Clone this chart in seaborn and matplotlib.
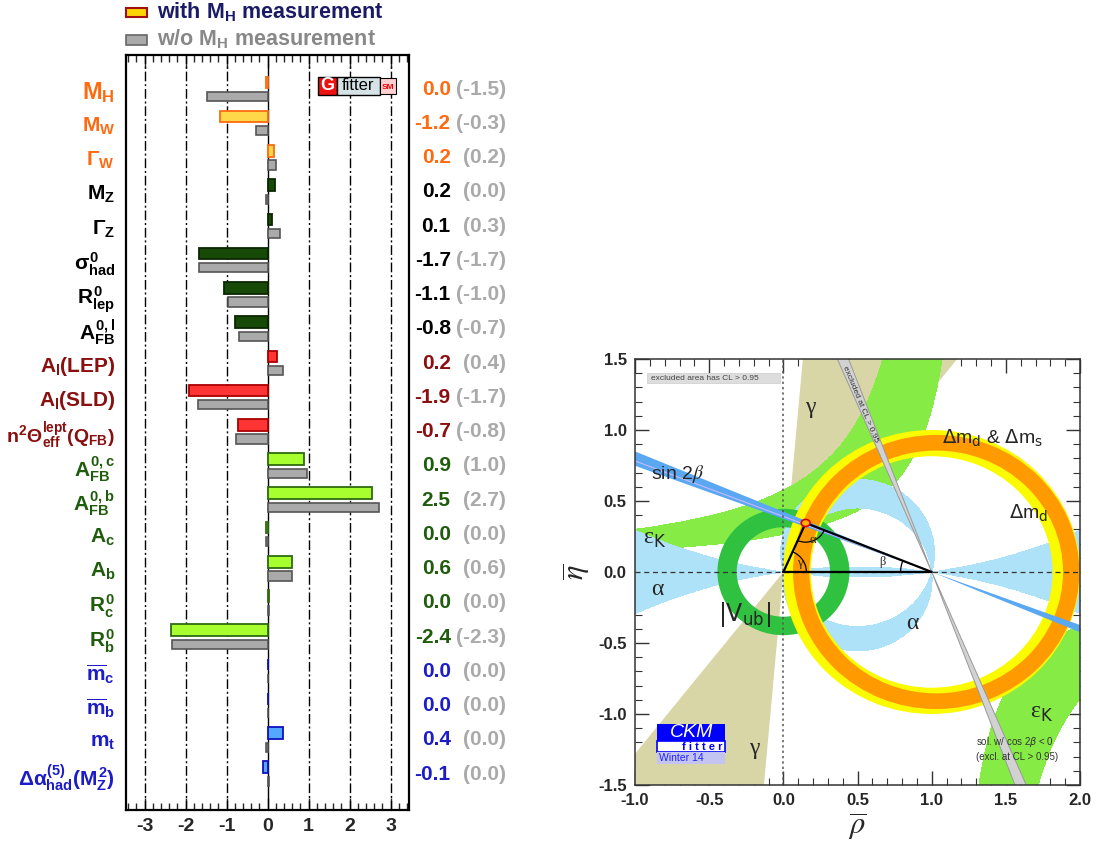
import numpy as np
import pandas as pd
import matplotlib
matplotlib.use('Agg')
import matplotlib.pyplot as plt
import matplotlib.transforms as mtransforms
from matplotlib.patches import Rectangle, Wedge, Arc, Ellipse
from matplotlib.ticker import MultipleLocator, FormatStrFormatter
import seaborn as sns

# ---------------- Gfitter pull data ----------------
observables = [r'$M_H$', r'$M_W$', r'$\Gamma_W$', r'$M_Z$', r'$\Gamma_Z$',
               r'$\sigma^0_{had}$', r'$R^0_{lep}$', r'$A^{0,l}_{FB}$',
               r'$A_l\mathrm{(LEP)}$', r'$A_l\mathrm{(SLD)}$',
               r'$n^2\Theta^{lept}_{eff}(Q_{FB})$',
               r'$A^{0,c}_{FB}$', r'$A^{0,b}_{FB}$', r'$A_c$', r'$A_b$',
               r'$R^0_c$', r'$R^0_b$', r'$\overline{m}_c$', r'$\overline{m}_b$',
               r'$m_t$', r'$\Delta\alpha^{(5)}_{had}(M^2_Z)$']
pull_with = [-0.04, -1.17, 0.16, 0.19, 0.11, -1.66, -1.06, -0.80, 0.24, -1.91,
             -0.73, 0.89, 2.54, -0.04, 0.59, 0.04, -2.36, 0.01, 0.01, 0.38, -0.12]
pull_without = [-1.48, -0.29, 0.20, -0.04, 0.30, -1.66, -0.96, -0.70, 0.38, -1.69,
                -0.77, 0.96, 2.72, -0.03, 0.59, 0.04, -2.32, 0.0, 0.0, -0.03, 0.04]
groups = ['mass'] * 3 + ['z'] * 5 + ['lept'] * 3 + ['hf'] * 6 + ['quark'] * 4

# text colour, bar face, bar edge
group_style = {
    'mass': ('#ff6a10', '#ffd84a', '#ff6a10'),
    'z': ('#000000', '#164a06', '#0b2600'),
    'lept': ('#8a0f0f', '#ff3535', '#aa0000'),
    'hf': ('#1f5c0c', '#a8ff30', '#2f6a10'),
    'quark': ('#1c1cc8', '#55a8ff', '#1010c0'),
}

# ---------------- CKM fit constraints ----------------
apex = (0.150, 0.345)
gamma_range = (52.0, 85.0)
beta_range = (20.5, 23.0)
beta_excl_range = (67.0, 69.5)
alpha_ranges = [(0.0, 8.0), (75.0, 96.0), (172.0, 180.0)]
vub_radius = (0.315, 0.445)
dmd_radius = (0.815, 1.0)
dms_radius = (0.855, 0.965)
dms_center = 1.03
epsk_a = (1.0875, 1.30)
epsk_b = (0.345, 0.626)


def fmt(v):
    s = f"{v:.1f}"
    return "0.0" if s == "-0.0" else s


sns.set_style('white')
plt.rcParams['font.family'] = ['Liberation Sans', 'DejaVu Sans']
plt.rcParams['axes.unicode_minus'] = False
plt.rcParams['mathtext.fontset'] = 'custom'
plt.rcParams['mathtext.rm'] = 'Liberation Sans:bold'
plt.rcParams['mathtext.it'] = 'Liberation Sans:bold'
plt.rcParams['mathtext.bf'] = 'Liberation Sans:bold'
plt.rcParams['mathtext.sf'] = 'Liberation Sans:bold'

fig = plt.figure(figsize=(10.97, 8.48), dpi=100)
fig.patch.set_facecolor('white')

# ================= left panel: pulls =================
ax1 = fig.add_axes([0.1149, 0.0448, 0.258, 0.8903])
n = len(observables)
df = pd.DataFrame({'obs': observables * 2,
                   'pull': pull_with + pull_without,
                   'fit': ['with'] * n + ['without'] * n})
sns.barplot(data=df, x='pull', y='obs', hue='fit', orient='h', dodge=True,
            errorbar=None, legend=False, ax=ax1)

for i, (bar, g) in enumerate(zip(ax1.containers[0], groups)):
    _, face, edge = group_style[g]
    bar.set_y(i - 0.37)
    bar.set_height(0.34)
    bar.set_facecolor(face)
    bar.set_edgecolor(edge)
    bar.set_linewidth(1.3)
    bar.set_zorder(3)
for i, bar in enumerate(ax1.containers[1]):
    bar.set_y(i + 0.08)
    bar.set_height(0.27)
    bar.set_facecolor('#aaaaaa')
    bar.set_edgecolor('#555555')
    bar.set_linewidth(1.2)
    bar.set_zorder(3)

for v in [-3, -2, -1, 1, 2, 3]:
    ax1.axvline(v, color='black', lw=1, ls=(0, (7, 2, 1.5, 2)), zorder=1)
ax1.axvline(0, color='black', lw=1, zorder=2)

ax1.set_xlim(-3.45, 3.45)
ax1.set_ylim(21.05, -1.0)
ax1.set_xlabel('')
ax1.set_ylabel('')
ax1.xaxis.set_major_locator(MultipleLocator(1))
ax1.xaxis.set_minor_locator(MultipleLocator(0.2))
ax1.tick_params(axis='x', which='both', direction='in', top=True, bottom=True)
ax1.tick_params(axis='x', which='major', length=9, width=1, labelsize=14, pad=6)
ax1.tick_params(axis='x', which='minor', length=5, width=1)
ax1.tick_params(axis='y', length=0, pad=8, labelsize=15)
for lab in ax1.get_xticklabels():
    lab.set_fontweight('bold')
for lab, g in zip(ax1.get_yticklabels(), groups):
    lab.set_color(group_style[g][0])
    lab.set_fontweight('bold')
ax1.get_yticklabels()[0].set_fontsize(17)
ax1.get_yticklabels()[10].set_fontsize(14)
for sp in ax1.spines.values():
    sp.set_linewidth(1.6)
    sp.set_color('black')

trans = mtransforms.blended_transform_factory(ax1.transAxes, ax1.transData)
for i, g in enumerate(groups):
    ax1.text(1.147, i, fmt(pull_with[i]), transform=trans, ha='right',
             va='center', color=group_style[g][0], fontsize=15,
             fontweight='bold', clip_on=False)
    ax1.text(1.342, i, '(' + fmt(pull_without[i]) + ')', transform=trans,
             ha='right', va='center', color='#aaaaaa', fontsize=15,
             fontweight='bold', clip_on=False)

# Gfitter logo
ax1.add_patch(Rectangle((0.678, 0.947), 0.067, 0.024, transform=ax1.transAxes,
                        fc='#ee1111', ec='black', lw=1, zorder=5))
ax1.add_patch(Rectangle((0.745, 0.947), 0.153, 0.024, transform=ax1.transAxes,
                        fc='#d5e3e6', ec='black', lw=1, zorder=5))
ax1.add_patch(Rectangle((0.898, 0.949), 0.056, 0.020, transform=ax1.transAxes,
                        fc='#ffd0d0', ec='black', lw=0.8, zorder=5))
ax1.text(0.711, 0.959, 'G', transform=ax1.transAxes, ha='center', va='center',
         color='white', fontsize=13, fontweight='bold', zorder=6)
ax1.text(0.821, 0.959, 'fitter', transform=ax1.transAxes, ha='center',
         va='center', color='black', fontsize=12, zorder=6)
ax1.text(0.926, 0.957, 'SM', transform=ax1.transAxes, ha='center',
         va='center', color='#ee0000', fontsize=6, fontweight='bold', zorder=6)

# legend above the frame
fig.add_artist(Rectangle((0.115, 0.980), 0.019, 0.0106, transform=fig.transFigure,
                         fc='#ffd500', ec='#a01010', lw=1.5))
fig.add_artist(Rectangle((0.115, 0.947), 0.019, 0.0118, transform=fig.transFigure,
                         fc='#aaaaaa', ec='#666666', lw=1.2))
fig.text(0.143, 0.986, r'with M$_H$ measurement', ha='left', va='center',
         color='#1a1a66', fontsize=15.5, fontweight='bold')
fig.text(0.143, 0.954, r'w/o M$_H$ measurement', ha='left', va='center',
         color='#888888', fontsize=15.5, fontweight='bold')

# ================= right panel: CKM =================
ax2 = fig.add_axes([0.5789, 0.0743, 0.4057, 0.5024])
ax2.set_xlim(-1, 2)
ax2.set_ylim(-1.5, 1.5)

rho = np.linspace(-1, 2, 1201)
eta = np.linspace(-1.5, 1.5, 1201)
R, E = np.meshgrid(rho, eta)

# gamma
for off in (0, 180):
    ax2.add_patch(Wedge((0, 0), 4, gamma_range[0] + off, gamma_range[1] + off,
                        fc='#d8d5a6', ec='none', zorder=1))

# epsilon_K
lo = np.where(E > 0, E * (epsk_a[0] - R), E * (epsk_a[1] - R))
hi = np.where(E > 0, E * (epsk_a[1] - R), E * (epsk_a[0] - R))
epsk_mask = ((hi >= epsk_b[0]) & (lo <= epsk_b[1])).astype(float)
ax2.contourf(R, E, epsk_mask, levels=[0.5, 1.5], colors=['#86ec45'], zorder=2)

# alpha
v1x, v1y = -R, -E
v2x, v2y = 1 - R, -E
cosang = (v1x * v2x + v1y * v2y) / (np.hypot(v1x, v1y) * np.hypot(v2x, v2y) + 1e-12)
theta = np.degrees(np.arccos(np.clip(cosang, -1, 1)))
alpha_geo = np.where(E >= 0, theta, 180 - theta)
alpha_mask = np.zeros_like(R)
for a0, a1 in alpha_ranges:
    alpha_mask[(alpha_geo >= a0) & (alpha_geo <= a1)] = 1.0
ax2.contourf(R, E, alpha_mask, levels=[0.5, 1.5], colors=['#aee2f8'], zorder=3)

# |Vub|
ax2.add_patch(Wedge((0, 0), vub_radius[1], 0, 360,
                    width=vub_radius[1] - vub_radius[0],
                    fc='#2fc13f', ec='none', zorder=4))
# dm_d and dm_d & dm_s
ax2.add_patch(Wedge((1, 0), dmd_radius[1], 0, 360,
                    width=dmd_radius[1] - dmd_radius[0],
                    fc='#fafa00', ec='none', zorder=5))
ax2.add_patch(Wedge((dms_center, 0), dms_radius[1], 0, 360,
                    width=dms_radius[1] - dms_radius[0],
                    fc='#ff9a00', ec='none', zorder=6))

# sin 2beta
ax2.add_patch(Wedge((1, 0), 4, 180 - beta_range[1], 180 - beta_range[0],
                    fc='#5aa8f2', ec='none', zorder=7))
ax2.add_patch(Wedge((1, 0), 4, 360 - beta_range[1], 360 - beta_range[0],
                    fc='#5aa8f2', ec='none', zorder=7))
bmid = np.radians(180 - np.mean(beta_range) + 0.4)
ax2.plot([1, 1 + 4 * np.cos(bmid)], [0, 4 * np.sin(bmid)], color='#c8b8ff',
         lw=0.8, zorder=7.5)

# excluded second solution
for off in (0, 180):
    ax2.add_patch(Wedge((1, 0), 4, 180 - beta_excl_range[1] + off,
                        180 - beta_excl_range[0] + off,
                        fc='#d2d2d2', ec='#999999', lw=0.7, zorder=8))

# unitarity triangle
ax2.plot([0, apex[0], 1, 0], [0, apex[1], 0, 0], color='black', lw=1.6, zorder=11)
ang_a0 = np.degrees(np.arctan2(-apex[1], -apex[0])) % 360
ang_a1 = np.degrees(np.arctan2(-apex[1], 1 - apex[0])) % 360
ang_g = np.degrees(np.arctan2(apex[1], apex[0]))
ang_b = np.degrees(np.arctan2(apex[1], apex[0] - 1))
ax2.add_patch(Arc(apex, 0.27, 0.27, theta1=ang_a0, theta2=ang_a1, color='black',
                  lw=0.9, zorder=11))
ax2.add_patch(Arc((0, 0), 0.31, 0.31, theta1=0, theta2=ang_g, color='black',
                  lw=0.9, zorder=11))
ax2.add_patch(Arc((1, 0), 0.42, 0.42, theta1=ang_b, theta2=180, color='black',
                  lw=0.9, zorder=11))
ax2.add_patch(Ellipse(apex, 0.06, 0.05, fc='#ffb000', ec='#dd0000', lw=1.2,
                      zorder=12))

ax2.axvline(0, color='#555555', ls=(0, (1.5, 2)), lw=1.1, zorder=10)
ax2.axhline(0, color='#333333', ls=(0, (4, 3)), lw=0.9, zorder=10)

serif = 'Liberation Serif'
ax2.text(0.195, 0.225, 'α', family=serif, fontsize=9, ha='center', va='center', zorder=13)
ax2.text(0.11, 0.065, 'γ', family=serif, fontsize=9, ha='center', va='center', zorder=13)
ax2.text(0.67, 0.07, 'β', family=serif, fontsize=9, ha='center', va='center', zorder=13)
ax2.text(0.18, 1.16, 'γ', family=serif, fontsize=17, ha='center', va='center', zorder=13)
ax2.text(-0.2, -1.24, 'γ', family=serif, fontsize=17, ha='center', va='center', zorder=13)
ax2.text(-0.85, -0.12, 'α', family=serif, fontsize=17, ha='center', va='center', zorder=13)
ax2.text(0.87, -0.36, 'α', family=serif, fontsize=17, ha='center', va='center', zorder=13)
ax2.text(-0.89, 0.69, r'sin 2$\beta$', fontsize=14, ha='left', va='center',
         math_fontfamily='stix', zorder=13)
ax2.text(-0.87, 0.23, r'ε$_{\rm K}$', family=serif, fontsize=17, ha='center',
         va='center', math_fontfamily='dejavusans', zorder=13)
ax2.text(1.74, -1.0, r'ε$_{\rm K}$', family=serif, fontsize=17, ha='center',
         va='center', math_fontfamily='dejavusans', zorder=13)
ax2.text(-0.26, -0.30, r'$|\mathrm{V}_{\rm ub}|$', fontsize=17, ha='center',
         va='center', math_fontfamily='dejavusans', zorder=13)
ax2.text(1.07, 0.94, r'$\Delta$m$_{\rm d}$ & $\Delta$m$_{\rm s}$',
         fontsize=14, ha='left', va='center', math_fontfamily='dejavusans', zorder=13)
ax2.text(1.52, 0.41, r'$\Delta$m$_{\rm d}$', fontsize=14, ha='left',
         va='center', math_fontfamily='dejavusans', zorder=13)
ax2.text(0.52, 1.18, 'excluded at CL > 0.95', fontsize=6, rotation=-67.3,
         ha='center', va='center', color='#333333', zorder=13)
ax2.text(1.30, -1.20, r'sol. w/ cos 2$\beta$ < 0', fontsize=7, ha='left',
         va='center', color='#333333', math_fontfamily='dejavusans', zorder=13)
ax2.text(1.30, -1.30, '(excl. at CL > 0.95)', fontsize=7, ha='left', va='center',
         color='#333333', zorder=13)

# excluded-area box
ax2.add_patch(Rectangle((-0.92, 1.33), 0.9, 0.07, fc='#dddddd', ec='#cccccc',
                        lw=0.5, zorder=13))
ax2.text(-0.89, 1.365, 'excluded area has CL > 0.95', fontsize=6, ha='left',
         va='center', color='#444444', zorder=14)

# CKMfitter logo
ax2.add_patch(Rectangle((-0.852, -1.19), 0.456, 0.12, fc='#0000ff', ec='none', zorder=13))
ax2.add_patch(Rectangle((-0.852, -1.27), 0.456, 0.08, fc='white', ec='#0000ff',
                        lw=1.2, zorder=13))
ax2.add_patch(Rectangle((-0.852, -1.35), 0.456, 0.08, fc='#c4c4f2', ec='none', zorder=13))
ax2.text(-0.62, -1.13, 'CKM', color='white', fontsize=14, style='italic',
         ha='center', va='center', zorder=14)
ax2.text(-0.41, -1.232, 'f i t t e r', color='#0000ff', fontsize=8,
         fontweight='bold', ha='right', va='center', zorder=14)
ax2.text(-0.69, -1.31, 'Winter 14', color='#2222ff', fontsize=7.5,
         ha='center', va='center', zorder=14)

ax2.xaxis.set_major_locator(MultipleLocator(0.5))
ax2.xaxis.set_minor_locator(MultipleLocator(0.1))
ax2.yaxis.set_major_locator(MultipleLocator(0.5))
ax2.yaxis.set_minor_locator(MultipleLocator(0.1))
ax2.xaxis.set_major_formatter(FormatStrFormatter('%.1f'))
ax2.yaxis.set_major_formatter(FormatStrFormatter('%.1f'))
ax2.tick_params(which='both', direction='in', top=True, right=True,
                bottom=True, left=True, color='#333333')
ax2.tick_params(which='major', length=10, width=1, labelsize=12, pad=6)
ax2.tick_params(which='minor', length=5, width=0.8)
for lab in ax2.get_xticklabels() + ax2.get_yticklabels():
    lab.set_fontweight('bold')
for sp in ax2.spines.values():
    sp.set_linewidth(1.1)
    sp.set_color('#333333')
    sp.set_zorder(20)
ax2.set_xlabel(r'$\overline{\rho}$', fontsize=22, math_fontfamily='stix', labelpad=2)
ax2.set_ylabel(r'$\overline{\eta}$', fontsize=22, math_fontfamily='stix', labelpad=4)

fig.savefig('out.png', dpi=100, facecolor='white')
